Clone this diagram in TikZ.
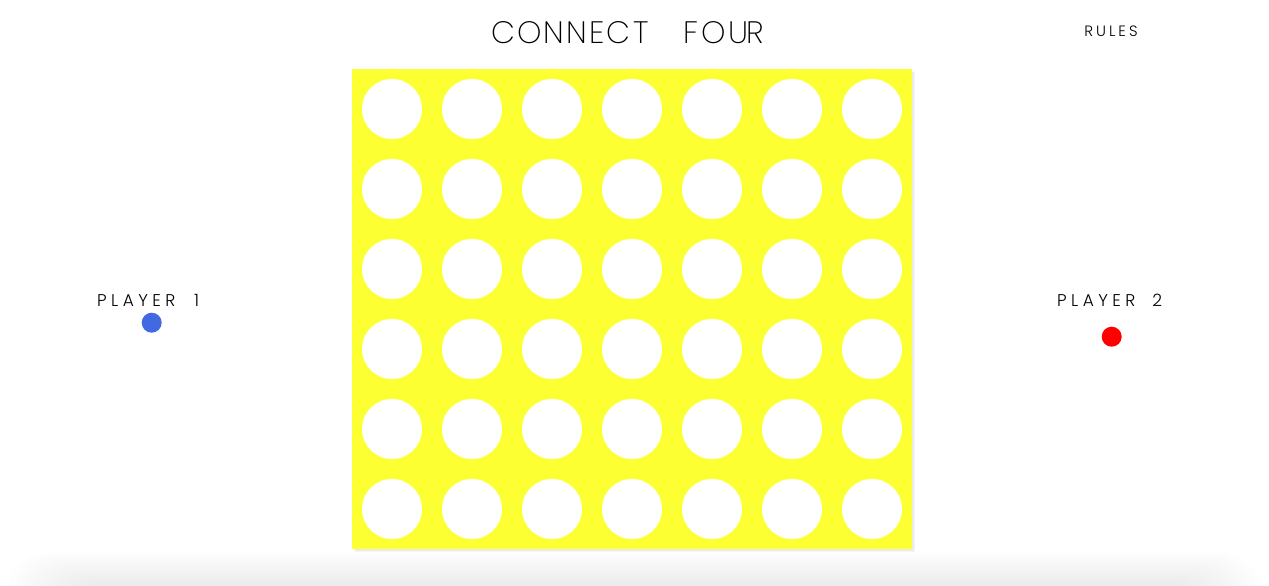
\documentclass[tikz,border=0pt]{standalone}
\usepackage{fontspec}
\setmainfont{Poppins}[UprightFont=* ExtraLight]
\newfontfamily\titlefont{Poppins}[UprightFont=* ExtraLight,LetterSpace=7]
\newfontfamily\labelfont{Poppins}[UprightFont=* Light,LetterSpace=26]
\newfontfamily\rulesfont{Poppins}[UprightFont=* Light,LetterSpace=20]
\definecolor{boardyellow}{RGB}{252,255,50}
\definecolor{pone}{RGB}{65,105,225}
\definecolor{ptwo}{RGB}{255,0,0}
\tikzset{
  hole/.style={circle,fill=white,minimum size=60pt,inner sep=0pt},
  token/.style={circle,minimum size=20pt,inner sep=0pt},
  lbl/.style={inner sep=0pt,font=\labelfont\fontsize{17}{17}\selectfont},
}
\begin{document}
\begin{tikzpicture}[x=1pt,y=-1pt]
\useasboundingbox (0,0) rectangle (1269,586);
% bottom shadow
\foreach \i in {0,...,9}{
  \fill[black,opacity=0.007,rounded corners=40pt] (8+6*\i,553+3.3*\i) rectangle (1261-6*\i,640);
}
% board shadow
\fill[black,opacity=0.04] (355,72) rectangle (915,552);
\fill[black,opacity=0.04] (354,71) rectangle (914,551);
\node[fill=boardyellow,minimum width=560pt,minimum height=480pt,inner sep=0pt,anchor=north west] (board) at (352,69) {};
\foreach \c in {0,...,6}{
  \foreach \r in {0,...,5}{
    \node[hole] (h\c\r) at (392+80*\c,109+80*\r) {};
  }
}
\node[inner sep=0pt,anchor=base west,font=\titlefont\fontsize{31}{31}\selectfont] (title) at (491,43.5) {CONNECT\hspace{35pt}F\kern3pt O\kern3pt U\kern-2.5pt R};
\node[inner sep=0pt,anchor=base,font=\rulesfont\fontsize{15}{15}\selectfont] (rules) at (1111,36.5) {RULES};
\node[lbl,anchor=base west] (p1) at (97,306) {PLAYER\hspace{19pt}1};
\node[lbl,anchor=base west] (p2) at (1057,306) {PLAYER\hspace{17pt}2};
\node[token,fill=pone] (t1) at (151.7,322.7) {};
\node[token,fill=ptwo] (t2) at (1111.7,336.7) {};
\end{tikzpicture}
\end{document}
